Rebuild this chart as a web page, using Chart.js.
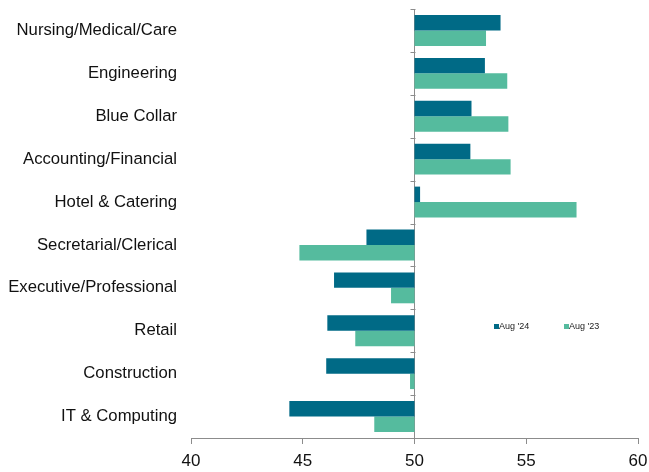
<!DOCTYPE html>
<html>
<head>
<meta charset="utf-8">
<script src="https://cdn.jsdelivr.net/npm/chart.js@4/dist/chart.umd.min.js"></script>
<style>
  body { margin: 0; background: #fff; }
  #wrap { width: 649px; height: 472px; position: relative; }
</style>
</head>
<body>
<div id="wrap"><canvas id="myChart"></canvas></div>
<script>
// values
var categories = ['Nursing/Medical/Care', 'Engineering', 'Blue Collar', 'Accounting/Financial',
  'Hotel & Catering', 'Secretarial/Clerical', 'Executive/Professional', 'Retail',
  'Construction', 'IT & Computing']
var aug24 = [53.85, 53.15, 52.55, 52.5, 50.25, 47.85, 46.4, 46.1, 46.05, 44.4]
var aug23 = [53.2, 54.15, 54.2, 54.3, 57.25, 44.85, 48.95, 47.35, 49.8, 48.2]
var seriesNames = ["Aug '24", "Aug '23"]
var xTicks = [40, 45, 50, 55, 60]
var baseline = 50

var darkTeal = '#006a86'
var lightTeal = '#55bb9e'
var axisGrey = '#8c8c8c'
var fontFamily = "Arial, 'Liberation Sans', sans-serif"

// category tick marks on the 50 line + small legend inside the plot
var extras = {
  id: 'extras',
  afterDraw: function (chart) {
    var ctx = chart.ctx
    var xs = chart.scales.x
    var ys = chart.scales.y
    var x0 = Math.round(xs.getPixelForValue(baseline)) + 0.5
    ctx.save()
    ctx.strokeStyle = axisGrey
    ctx.lineWidth = 1
    ctx.beginPath()
    for (var i = 0; i <= categories.length; i++) {
      var y = Math.round(ys.getPixelForValue(i - 0.5)) + 0.5
      ctx.moveTo(x0 - 5, y)
      ctx.lineTo(x0, y)
    }
    ctx.stroke()

    var spots = [494, 564]
    ctx.font = '9px ' + fontFamily
    ctx.textBaseline = 'middle'
    chart.data.datasets.forEach(function (ds, i) {
      var lx = spots[i]
      var ly = 326.5
      ctx.fillStyle = ds.backgroundColor
      ctx.fillRect(lx, ly - 2.5, 5, 5)
      ctx.fillStyle = '#222'
      ctx.fillText(ds.label, lx + 5, ly)
    })
    ctx.restore()
  }
}

let myChart = document.getElementById('myChart').getContext('2d')
let barChart = new Chart(myChart, {
  type: 'bar',
  data: {
    labels: categories,
    datasets: [{
      label: seriesNames[0],
      data: aug24.map(v => [baseline, v]),
      backgroundColor: darkTeal,
      categoryPercentage: 0.72,
      barPercentage: 1.0
    }, {
      label: seriesNames[1],
      data: aug23.map(v => [baseline, v]),
      backgroundColor: lightTeal,
      categoryPercentage: 0.72,
      barPercentage: 1.0
    }]
  },
  options: {
    indexAxis: 'y',
    responsive: true,
    maintainAspectRatio: false,
    animation: false,
    layout: { padding: { left: 7, top: 9, right: 11, bottom: 0 } },
    plugins: {
      legend: { display: false },
      tooltip: { enabled: false }
    },
    scales: {
      x: {
        min: 40,
        max: 60,
        afterBuildTicks: function (scale) {
          scale.ticks = xTicks.map(v => ({ value: v }))
        },
        afterFit: function (scale) {
          scale.paddingLeft = 0
          scale.paddingRight = 0
          scale.height = 34
        },
        border: { display: true, color: axisGrey, width: 1 },
        grid: {
          drawOnChartArea: true,
          drawTicks: true,
          tickLength: 6,
          tickColor: axisGrey,
          color: ctx => (ctx.tick && ctx.tick.value === baseline) ? axisGrey : 'rgba(0,0,0,0)'
        },
        ticks: { color: '#111', padding: 7, font: { family: fontFamily, size: 17 } }
      },
      y: {
        position: 'left',
        afterFit: function (scale) {
          scale.paddingTop = 0
          scale.paddingBottom = 0
          scale.width = 184
        },
        border: { display: false },
        grid: { display: false, drawTicks: false },
        ticks: { color: '#111', padding: 14, font: { family: fontFamily, size: 16.7 } }
      }
    }
  },
  plugins: [extras]
})
</script>
</body>
</html>
